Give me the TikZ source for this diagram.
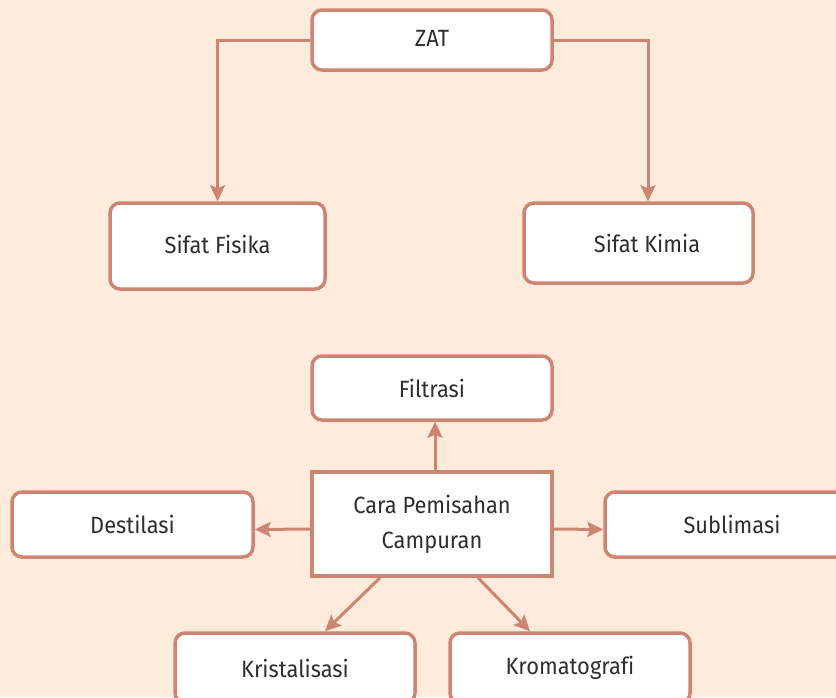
\documentclass[tikz,border=0pt]{standalone}
\usepackage{fontspec}
\setmainfont[FakeStretch=0.93,Ligatures=NoCommon]{Fira Sans}
\usetikzlibrary{arrows.meta,positioning,calc}
\definecolor{bgc}{HTML}{FEEBDB}
\definecolor{linec}{HTML}{CD8472}
\definecolor{txtc}{HTML}{2E2E2E}
\tikzset{
  rbox/.style={draw=linec, line width=3.5pt, fill=white, rounded corners=10pt, text=txtc, inner sep=0pt, align=center,
    font=\fontsize{23.5}{35}\selectfont},
  sbox/.style={draw=linec, line width=3.5pt, fill=white, text=txtc, inner sep=0pt, align=center,
    font=\fontsize{23.5}{35}\selectfont},
  conn/.style={draw=linec, line width=3pt, -{Stealth[length=16pt,width=15pt,inset=3pt]}}
}
\begin{document}
\begin{tikzpicture}[x=1pt,y=-1pt]
\clip (0,0) rectangle (836,697);
\fill[bgc] (0,0) rectangle (836,697);
% top part
\node[rbox, minimum width=240pt, minimum height=60pt] (zat) at (432,40) {\raisebox{4pt}{ZAT}};
\node[rbox, minimum width=215pt, minimum height=86pt] (fisika) at (217.5,246) {\raisebox{3pt}{Sifat Fisika}};
\node[rbox, minimum width=229pt, minimum height=80pt] (kimia) at (638.5,243) {\hspace*{17pt}Sifat Kimia};
% bottom part
\node[rbox, minimum width=240pt, minimum height=64pt] (filtrasi) at (432,388) {Filtrasi};
\node[sbox, minimum width=240pt, minimum height=104pt] (cara) at (432,524) {Cara Pemisahan\\Campuran};
\node[rbox, minimum width=241pt, minimum height=65pt] (destilasi) at (132.5,524.5) {Destilasi};
\node[rbox, minimum width=254pt, minimum height=65pt] (sublimasi) at (732,524.5) {Sublimasi};
\node[rbox, minimum width=240pt, minimum height=70pt] (kristal) at (295,668) {Kristalisasi};
\node[rbox, minimum width=240pt, minimum height=70pt] (kromato) at (570,668) {\raisebox{1pt}{Kromatografi}};
% connectors
\draw[conn] (zat.west) -| (fisika.north);
\draw[conn] (zat.east) -| ([xshift=9.5pt]kimia.north);
\draw[conn] ([xshift=3pt]cara.north) -- ([xshift=3pt]filtrasi.south);
\draw[conn] ([yshift=-5pt]cara.west) -- ([yshift=-5pt]destilasi.east);
\draw[conn] ([yshift=-5pt]cara.east) -- ([yshift=-5pt]sublimasi.west);
\draw[conn] ([xshift=-52pt]cara.south) -- ([xshift=30pt]kristal.north);
\draw[conn] ([xshift=46pt]cara.south) -- ([xshift=-40pt]kromato.north);
\end{tikzpicture}
\end{document}
